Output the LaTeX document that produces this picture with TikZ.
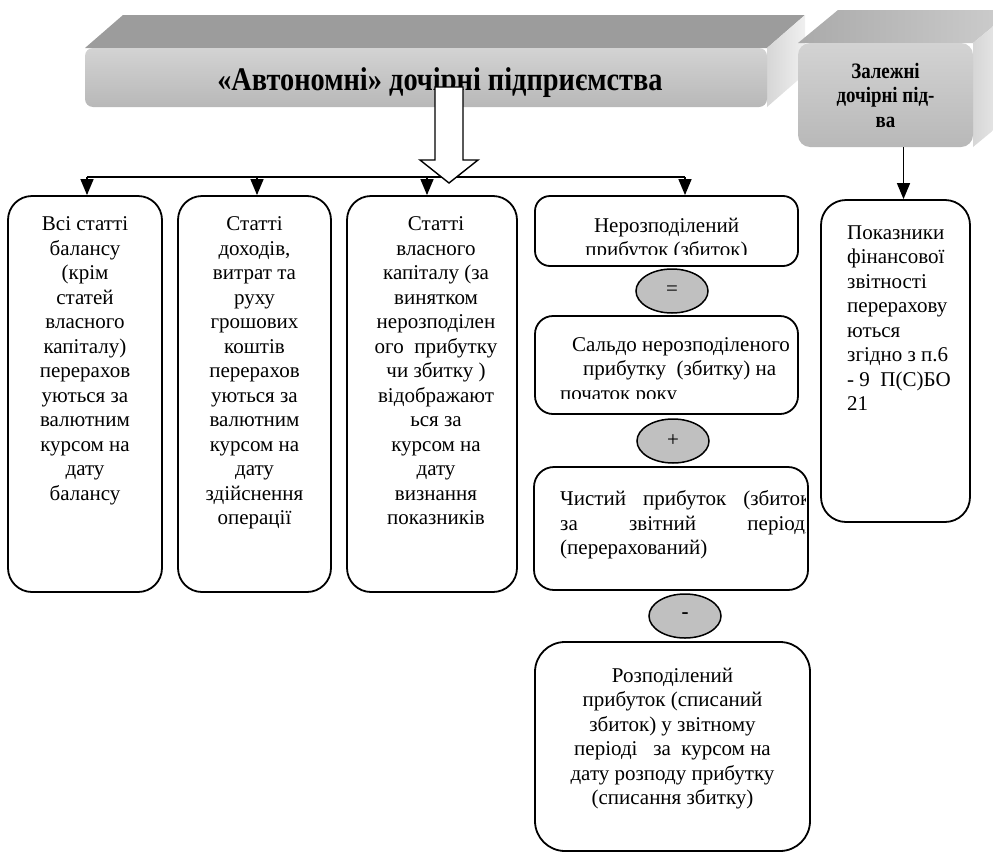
\documentclass[tikz,border=0pt]{standalone}
\usepackage{fontspec}
\setmainfont{Liberation Serif}
\newfontfamily\titlefont[FakeStretch=0.86]{Liberation Serif}
\usepackage{tikz}
\usetikzlibrary{shapes.geometric, arrows.meta, positioning, calc, fit}
\definecolor{barfront}{RGB}{200,200,200}
\definecolor{bartop}{RGB}{156,156,156}
\definecolor{barside}{RGB}{214,214,214}
\definecolor{deptop}{RGB}{170,170,170}
\definecolor{opfill}{RGB}{192,192,192}

\begin{document}
\begin{tikzpicture}[x=1pt, y=-1pt,
    face/.style={inner sep=0pt, rounded corners=#1},
    box/.style={draw=black, line width=1.8pt, inner sep=0pt, rounded corners=#1},
    op/.style={ellipse, draw=black, line width=1.5pt, fill=opfill, minimum width=72pt, minimum height=44pt, inner sep=0pt, font=\fontsize{21}{24}\selectfont},
    txt/.style={font=\fontsize{21}{24.5}\selectfont, align=center, inner sep=0pt},
    arr/.style={line width=1.4pt, -{Triangle[length=16pt, width=13pt]}}]
  \useasboundingbox (0,0) rectangle (993,854);
  \clip (0,0) rectangle (993,854);

  % autonomous block
  \fill[bartop] (85,48) -- (123,15) -- (805,15) -- (767,48) -- cycle;
  \shade[left color=barside, right color=white!94!black] (767,48) -- (805,15) -- (805,74) -- (767,107) -- cycle;
  \node[face=8, top color=barfront!80!white, bottom color=barfront!92!black, fit={(85,48) (767,107)}] (auto) {};
  \node[font=\fontsize{33}{36}\titlefont\bfseries, anchor=base] (title) at (440,90) {«Автономні» дочірні підприємства};

  % dependent block
  \shade[left color=deptop, right color=barfront!90!white] (798,43) -- (838,10) -- (1013,10) -- (973,43) -- cycle;
  \shade[left color=barside, right color=white!94!black] (973,43) -- (1013,10) -- (1013,114) -- (973,147) -- cycle;
  \node[face=12, top color=barfront!80!white, bottom color=barfront!92!black, fit={(798,43) (973,147)}] (dep) {};
  \node[txt, font=\fontsize{22}{24.5}\titlefont\bfseries, anchor=north] (deptxt) at (885.5,63) {Залежні\\дочірні під-\\ва};

  % boxes
  \node[box=24, fit={(8,196) (162,592)}] (b1) {};
  \node[box=24, fit={(178,196) (331,592)}] (b2) {};
  \node[box=24, fit={(347,196) (517,592)}] (b3) {};
  \node[box=15, fit={(535,196) (798,266)}] (n1) {};
  \node[box=18, fit={(535,316) (798,414)}] (n2) {};
  \node[box=20, fit={(534,467) (808,590)}] (n3) {};
  \node[box=30, fit={(535,642) (810,851)}] (n4) {};
  \node[box=25, fit={(821,200) (970,522)}] (pok) {};

  \node[txt, anchor=north] (t1) at ([yshift=-21.5]b1.north) {Всі статті\\балансу\\(крім\\статей\\власного\\капіталу)\\перерахов\\уються за\\валютним\\курсом на\\дату\\балансу};
  \node[txt, anchor=north] (t2) at ([yshift=-21.5]b2.north) {Статті\\доходів,\\витрат та\\руху\\грошових\\коштів\\перерахов\\уються за\\валютним\\курсом на\\дату\\здійснення\\операції};
  \node[txt, anchor=north] (t3) at ([xshift=4, yshift=-21.5]b3.north) {Статті\\власного\\капіталу (за\\винятком\\нерозподілен\\ого\ \ прибутку\\чи збитку )\\відображают\\ься за\\курсом на\\дату\\визнання\\показників};
  \begin{scope}
    \clip (535,196) rectangle (798,254);
    \node[txt, anchor=north] (n1txt) at (666.5,217.5) {Нерозподілений\\прибуток (збиток)};
  \end{scope}
  \begin{scope}
    \clip (535,316) rectangle (798,398);
    \node[txt, align=left, anchor=north west] (n2txt) at (560,337) {\hspace*{12pt}Сальдо нерозподіленого\\\hspace*{23pt}прибутку\ \ (збитку) на\\початок року};
  \end{scope}
  \begin{scope}
    \clip (534,467) rectangle (805,590);
    \node[txt, align=left, anchor=north west] (n3txt) at (560,490.5) {\makebox[250pt][s]{Чистий прибуток (збиток}\\\makebox[250pt][s]{за звітний період,}\\(перерахований)};
  \end{scope}
  \node[txt, anchor=north] (n4txt) at (672.5,667.5) {Розподілений\\прибуток (списаний\\збиток) у звітному\\періоді\ \ \ за\ \ курсом на\\дату розподу прибутку\\(списання збитку)};
  \node[txt, align=left, anchor=north west] (poktxt) at (847,225.5) {Показники\\фінансової\\звітності\\перерахову\\ються\\згідно з п.6\\- 9\ \ П(С)БО\\21};

  % signs
  \node[op] (eq) at (672,291) {=};
  \node[op] (plus) at (673,441) {+};
  \node[op] (minus) at (685,616) {\textbf{-}};

  % connectors
  \coordinate (bus1) at (87,177);
  \coordinate (bus2) at (257,177);
  \coordinate (bus3) at (427,177);
  \coordinate (bus4) at (685,177);
  \draw[line width=1.4pt] (bus1) -- (bus4);
  \foreach \i/\b in {1/b1, 2/b2, 3/b3, 4/n1}
    \draw[arr] (bus\i) -- (bus\i |- \b.north);
  \draw[arr] ([xshift=18]dep.south) -- ([xshift=18]dep.south |- pok.north);

  \coordinate (btip) at (449,183);
  \draw[line width=1.4pt, fill=white] (btip) -- ++(29,-23) -- ++(-15,0) -- ++(0,-73) -- ++(-28,0) -- ++(0,73) -- ++(-15,0) -- cycle;
\end{tikzpicture}
\end{document}
